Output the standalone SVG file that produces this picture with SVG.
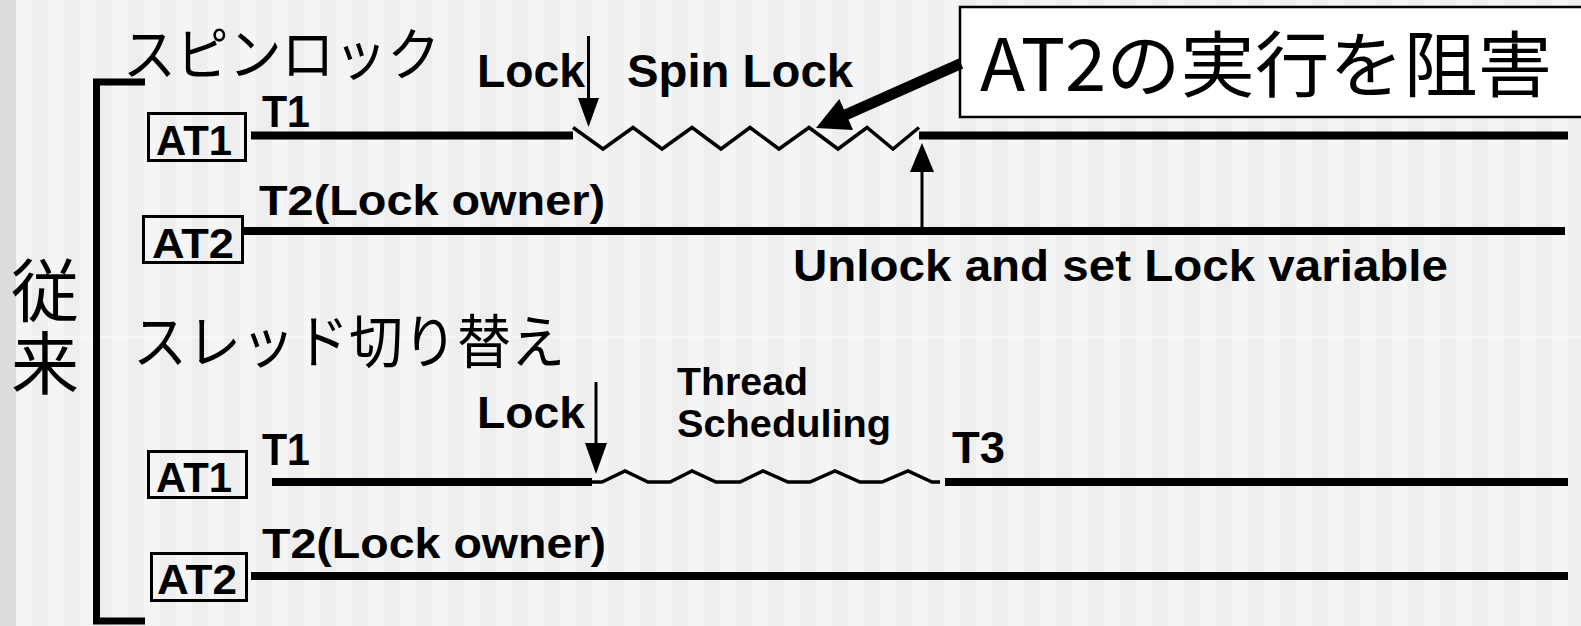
<svg xmlns="http://www.w3.org/2000/svg" width="1581" height="626" viewBox="0 0 1581 626">
  <defs>
    <pattern id="stripes" x="16" y="0" width="32" height="626" patternUnits="userSpaceOnUse">
      <rect x="0" y="0" width="16" height="626" fill="#f5f5f5"/>
      <rect x="16" y="0" width="16" height="626" fill="#eeeeee"/>
    </pattern>
    <style>
      .lat { font-family: "Liberation Sans", Arial, sans-serif; font-weight: bold; fill: #000; }
      .jp { font-family: "Noto Sans CJK JP", "Noto Sans CJK SC", sans-serif; font-weight: 400; fill: #000; }
      .tl { stroke: #000; stroke-width: 8; fill: none; }
      .box { fill: none; stroke: #000; stroke-width: 3; }
      .zig { stroke: #000; stroke-width: 3.5; fill: none; stroke-linejoin: miter; }
      .thin { stroke: #000; stroke-width: 3; fill: none; }
      .head { fill: #000; stroke: none; }
    </style>
  </defs>

  <!-- background -->
  <rect x="0" y="0" width="1581" height="626" fill="url(#stripes)"/>
  <rect x="0" y="0" width="16" height="626" fill="#dcdcdc"/>
  <rect x="16" y="336.5" width="1565" height="1" fill="#fbfbfb"/>

  <!-- bracket and side label -->
  <g id="bracket">
    <path d="M145,82 H96.5 V621 H145" fill="none" stroke="#000" stroke-width="7"/>
  </g>
  <g id="label-conventional">
    <text class="jp" font-size="68" text-anchor="middle"><tspan x="45" y="316">従</tspan><tspan x="45" y="389">来</tspan></text>
  </g>

  <!-- Spin lock section -->
  <g id="title-spinlock">
    <text class="jp" x="123" y="75" font-size="57" textLength="317" lengthAdjust="spacingAndGlyphs">スピンロック</text>
  </g>

  <g id="spin-at1">
    <rect class="box" x="148.5" y="113.5" width="97" height="47"/>
    <text class="lat" x="156" y="155" font-size="43" textLength="76" lengthAdjust="spacingAndGlyphs">AT1</text>
    <text class="lat" x="262" y="127" font-size="44" textLength="48" lengthAdjust="spacingAndGlyphs">T1</text>
    <line class="tl" x1="251" y1="135.5" x2="573" y2="135.5"/>
    <polyline class="zig" points="573,127.5 603,149 633,127.5 662,149 692,127.5 721,149 750,127.5 779,149 809,127.5 838,149 867,127.5 893,149 919,127.5"/>
    <line class="tl" x1="919" y1="135.5" x2="1568" y2="135.5"/>
    <text class="lat" x="627" y="87" font-size="47" textLength="226" lengthAdjust="spacingAndGlyphs">Spin Lock</text>
  </g>

  <g id="spin-at2">
    <rect class="box" x="143.5" y="216.5" width="99" height="46"/>
    <text class="lat" x="152" y="258" font-size="43" textLength="82" lengthAdjust="spacingAndGlyphs">AT2</text>
    <text class="lat" x="259" y="215" font-size="42" textLength="346" lengthAdjust="spacingAndGlyphs">T2(Lock owner)</text>
    <line class="tl" x1="244" y1="231" x2="1565" y2="231"/>
    <text class="lat" x="793" y="281" font-size="44" textLength="655" lengthAdjust="spacingAndGlyphs">Unlock and set Lock variable</text>
  </g>

  <g id="callout">
    <rect x="960" y="7" width="640" height="110" fill="#ffffff" stroke="#000" stroke-width="2.5"/>
    <text class="jp" x="980" y="91" font-size="72" textLength="572" lengthAdjust="spacingAndGlyphs">AT2の実行を阻害</text>
  </g>

  <!-- Thread switch section -->
  <g id="title-threadswitch">
    <text class="jp" x="133" y="363" font-size="58" textLength="432" lengthAdjust="spacingAndGlyphs">スレッド切り替え</text>
  </g>

  <g id="switch-at1">
    <rect class="box" x="148.5" y="451.5" width="98" height="46"/>
    <text class="lat" x="156" y="492" font-size="43" textLength="76" lengthAdjust="spacingAndGlyphs">AT1</text>
    <text class="lat" x="262" y="465" font-size="44" textLength="48" lengthAdjust="spacingAndGlyphs">T1</text>
    <line class="tl" x1="272" y1="482" x2="592" y2="482"/>
    <polyline class="zig" points="592,482 602,482 625,471 648,482 670,482 692,471 716,482 740,482 763,471 788,482 810,482 835,471 860,482 882,482 908,471 932,482 940,482"/>
    <line class="tl" x1="945" y1="482" x2="1568" y2="482"/>
    <text class="lat" x="677" y="395" font-size="39" textLength="131" lengthAdjust="spacingAndGlyphs">Thread</text>
    <text class="lat" x="677" y="437" font-size="39" textLength="214" lengthAdjust="spacingAndGlyphs">Scheduling</text>
    <text class="lat" x="952" y="463" font-size="44" textLength="53" lengthAdjust="spacingAndGlyphs">T3</text>
  </g>

  <g id="switch-at2">
    <rect class="box" x="151.5" y="553.5" width="95" height="47"/>
    <text class="lat" x="157" y="594" font-size="43" textLength="80" lengthAdjust="spacingAndGlyphs">AT2</text>
    <text class="lat" x="262" y="558" font-size="42" textLength="344" lengthAdjust="spacingAndGlyphs">T2(Lock owner)</text>
    <line class="tl" x1="251" y1="576" x2="1568" y2="576"/>
  </g>

  <!-- connectors -->
  <g id="connectors">
    <g id="lock-arrow-spin">
      <text class="lat" x="477" y="87" font-size="46" textLength="108" lengthAdjust="spacingAndGlyphs">Lock</text>
      <line class="thin" x1="588.5" y1="36" x2="588.5" y2="100"/>
      <polygon class="head" points="578,98 599,98 588.5,127"/>
    </g>
    <g id="unlock-arrow">
      <line class="thin" x1="922" y1="228" x2="922" y2="170"/>
      <polygon class="head" points="910,172 934,172 922,143"/>
    </g>
    <g id="callout-arrow">
      <line x1="961" y1="63.5" x2="843" y2="116" stroke="#000" stroke-width="11"/>
      <polygon class="head" points="816,128 839.3,99.1 853.1,130.1"/>
    </g>
    <g id="lock-arrow-switch">
      <text class="lat" x="477" y="428" font-size="44" textLength="108" lengthAdjust="spacingAndGlyphs">Lock</text>
      <line class="thin" x1="596" y1="382" x2="596" y2="445"/>
      <polygon class="head" points="585,443 607,443 596,474"/>
    </g>
  </g>
</svg>
